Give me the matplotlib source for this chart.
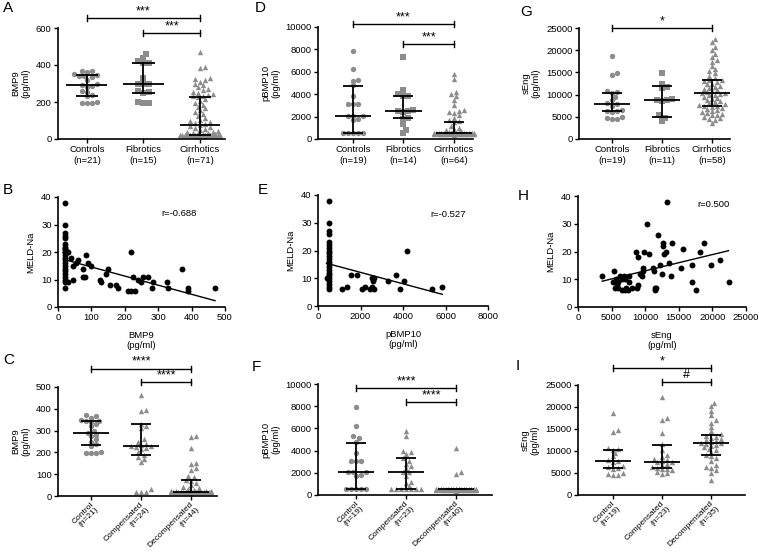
import numpy as np
import matplotlib
matplotlib.use("Agg")
import matplotlib.pyplot as plt
from matplotlib.transforms import ScaledTranslation

plt.rcParams['font.family'] = ['Liberation Sans', 'DejaVu Sans']
plt.rcParams['font.size'] = 6.8

W, H = 759, 556
GREY = '#8c8c8c'
FS = 6.8

# ---------------- data ----------------
# top row: controls / fibrotics / cirrhotics
cat_top = ['Controls', 'Fibrotics', 'Cirrhotics']
n_A = [21, 15, 71]
bmp9_ctrl = [370, 365, 360, 350, 345, 340, 340, 335, 320, 300, 290, 285, 280, 260, 255, 240, 230, 200, 195, 195, 195]
bmp9_fib = [460, 440, 420, 410, 410, 330, 300, 300, 295, 260, 255, 250, 200, 195, 195]
bmp9_cir = [470, 390, 385, 330, 325, 320, 310, 300, 290, 280, 270, 265, 255, 250, 245, 240, 235, 230,
            225, 215, 205, 195, 185, 175, 165, 155, 145, 135, 125, 115, 105, 95, 90, 85, 80, 75,
            70, 65, 60, 55, 50, 45, 40, 38, 35, 32, 30, 28, 25, 22, 22, 21, 21, 21, 20, 20, 20,
            20, 20, 20, 20, 20, 20, 20, 20, 19, 19, 19, 18, 18, 18]
med_A = [290, 297, 75]
q1_A = [232, 250, 20]
q3_A = [345, 410, 225]

n_D = [19, 14, 64]
pb10_ctrl = [7900, 6250, 5300, 5150, 4800, 3800, 3100, 3100, 3100, 2050, 2050, 2050, 1800, 1700, 500, 500, 500, 500, 500]
pb10_fib = [7350, 4350, 4050, 3850, 3850, 2600, 2500, 2500, 2450, 1900, 1800, 1300, 800, 500]
pb10_cir = [5800, 5400, 4200, 4000, 3800, 3500, 3000, 2600, 2500, 2400, 2300, 2100, 1900, 1700, 1600, 1500,
            1200, 1000, 900, 800, 700, 600, 520, 520, 510, 510, 500, 500, 500, 500, 500, 500, 500, 500,
            500, 500, 500, 500, 500, 500, 500, 500, 500, 500, 500, 500, 500, 500, 490, 490, 480, 480,
            470, 470, 460, 460, 450, 450, 450, 440, 440, 430, 420, 400]
med_D = [2050, 2500, 500]
q1_D = [500, 1850, 500]
q3_D = [4700, 3850, 1500]

n_G = [19, 11, 58]
seng_ctrl = [18600, 14800, 14400, 10700, 10500, 10300, 9500, 8800, 8000, 7800, 7500, 6500, 6300, 6200, 6000, 5000, 4800, 4600, 4500]
seng_fib = [14800, 12500, 11800, 11500, 9000, 8800, 8800, 8500, 5300, 4800, 4100]
seng_cir = [22500, 21800, 20800, 20000, 19200, 18500, 17800, 17400, 16500, 15800, 15300, 14800, 14200, 13800, 13400,
            13200, 13000, 12800, 12500, 12300, 12000, 11800, 11500, 11300, 11000, 10800, 10600, 10400, 10300,
            10200, 10000, 9800, 9500, 9300, 9000, 8800, 8500, 8300, 8000, 7800, 7600, 7500, 7400,
            7200, 7000, 6800, 6500, 6300, 6000, 5800, 5600, 5500, 5300, 5000, 4800, 4500, 4200, 3500]
med_G = [7800, 8800, 10300]
q1_G = [6200, 4900, 7500]
q3_G = [10300, 11900, 13200]

# middle row: correlations with MELD-Na
bmp9_x = [20, 20, 20, 20, 20, 20, 20, 20, 20, 20, 20, 20, 20, 20, 20, 20, 20, 20, 20, 20, 20, 20, 20,
          25, 30, 30, 40, 45, 45, 55, 60, 75, 75, 80, 85, 90, 100, 125, 130, 145, 150, 155, 175, 180,
          210, 220, 220, 225, 230, 240, 250, 255, 270, 280, 285, 325, 330, 370, 390, 390, 470]
meld_b = [38, 30, 27, 26, 25, 23, 22, 21, 21, 20, 20, 19, 18, 17, 16, 15, 14, 13, 12, 11, 10, 9, 7,
          20, 20, 9, 18, 15, 10, 16, 17, 14, 11, 11, 19, 16, 15, 10, 9, 12, 14, 8, 8, 7,
          6, 20, 6, 11, 6, 10, 9, 11, 11, 7, 9, 9, 7, 14, 7, 6, 7]
fit_B = (-0.0331, 17.86)
r_B = 'r=-0.688'

pb10_x = [500, 500, 500, 500, 500, 500, 500, 500, 500, 500, 500, 500, 500, 500, 500, 500, 500, 500, 500, 500, 500, 500,
          400, 1150, 1350, 1550, 1850, 2050, 2200, 2450, 2550, 2550, 2600, 2650, 2650, 3300, 3650, 3850, 4050,
          4200, 5350, 5850]
meld_e = [38, 30, 27, 26, 23, 22, 21, 20, 19, 18, 17, 16, 15, 14, 13, 12, 11, 10, 9, 8, 7, 6,
          10, 6, 7, 11, 11, 6, 7, 6, 10, 7, 9, 6, 10, 9, 11, 6, 9, 20, 6, 7]
fit_E = (-0.002056, 16.23)
r_E = 'r=-0.527'

seng_x = [3600, 5200, 5400, 5500, 5600, 5800, 6000, 6000, 6200, 6500, 6600, 6800, 7000, 7000, 7200, 7500, 7600, 7600,
          8000, 8600, 8800, 8900, 9000, 9200, 9500, 9600, 9700, 9800, 10200, 10600, 11100, 11300, 11400, 11500,
          11600, 11900, 12200, 12500, 12600, 12600, 12800, 13100, 13300, 13600, 13900, 14000, 15400, 15600,
          17000, 17000, 17600, 18100, 18800, 19800, 21100, 22400]
meld_h = [11, 9, 13, 7, 10, 8, 7, 9, 11, 10, 6, 11, 6, 10, 7, 6, 11, 9,
          7, 20, 7, 18, 8, 12, 11, 13, 14, 20, 30, 19, 14, 13, 6, 7,
          7, 26, 15, 12, 22, 23, 19, 20, 38, 16, 11, 23, 14, 21,
          15, 9, 6, 20, 23, 15, 17, 9]
fit_H = (0.000585, 7.19)
r_H = 'r=0.500'

# bottom row: control / compensated / decompensated
cat_bot = ['Control', 'Compensated', 'Decompensated']
n_C = [21, 24, 44]
bmp9_c_ctrl = [370, 365, 360, 350, 345, 345, 340, 330, 320, 300, 290, 280, 275, 260, 250, 240, 230, 200, 195, 195, 195]
bmp9_comp = [465, 395, 390, 330, 320, 310, 260, 250, 240, 235, 230, 230, 225, 220, 215, 200, 190, 180, 170, 155, 30, 20, 20, 20]
bmp9_decomp = [275, 270, 220, 150, 145, 130, 120, 90, 85, 75, 70, 60, 50, 40, 35, 30, 28, 25, 22,
               21, 21, 21, 20, 20, 20, 20, 20, 20, 20, 20, 20, 20, 20, 20, 20, 19, 19, 19, 18, 18, 18, 17, 17, 16]
med_C = [290, 230, 20]
q1_C = [232, 188, 18]
q3_C = [343, 328, 72]

n_F = [19, 23, 40]
pb10_c_ctrl = [7900, 6250, 5300, 5150, 4800, 3800, 3100, 3100, 3100, 2050, 2050, 2050, 1800, 1700, 500, 500, 500, 500, 500]
pb10_comp = [5800, 5300, 4000, 3900, 3700, 3300, 3100, 2800, 2600, 2400, 2100, 2050, 1700, 1200, 1100, 800,
             500, 500, 500, 500, 500, 500, 500]
pb10_decomp = [4200, 2100, 1900, 520, 510, 500, 500, 500, 500, 500, 500, 500, 500, 500, 500, 500, 500, 500, 500, 500,
               500, 500, 500, 500, 490, 490, 480, 480, 470, 470, 460, 460, 450, 450, 440, 440, 430, 420, 410, 400]
med_F = [2050, 2050, 500]
q1_F = [500, 500, 500]
q3_F = [4700, 3300, 500]

n_I = [19, 23, 35]
seng_c_ctrl = [18600, 14800, 14400, 10700, 10500, 10300, 9500, 8800, 8000, 7800, 7500, 6500, 6300, 6200, 6000, 5000, 4800, 4600, 4500]
seng_comp = [22300, 17600, 17000, 14000, 11500, 10200, 9200, 8700, 8200, 7900, 7700, 7600, 7400, 7000, 6800, 6400,
             6200, 6000, 5800, 5600, 5300, 5000, 4800]
seng_decomp = [21000, 20200, 19100, 18200, 17000, 16400, 15500, 14500, 13800, 13500, 13200, 13000, 12800, 12500,
               12300, 12100, 11900, 11800, 11600, 11400, 11200, 10800, 10500, 10200, 9800, 9200, 8800, 8400,
               7800, 6800, 6400, 6200, 5600, 5000, 3500]
med_I = [7800, 7600, 11800]
q1_I = [6100, 6100, 9000]
q3_I = [10300, 11300, 13600]

# ---------------- helpers ----------------
fig = plt.figure(figsize=(W / 100, H / 100), dpi=100)


def add_ax(left, top, right, bottom):
    ax = fig.add_axes([left / W, 1 - bottom / H, (right - left) / W, (bottom - top) / H])
    for s in ['top', 'right']:
        ax.spines[s].set_visible(False)
    for s in ['left', 'bottom']:
        ax.spines[s].set_linewidth(1.2)
    ax.tick_params(direction='out', length=3, width=1, pad=1.5, labelsize=FS)
    return ax


def swarm(vals, px_per_y, px_per_cat, d=4.6, max_px=22):
    # simple beeswarm: place each point as close to the centre as possible
    vals = np.asarray(vals, float)
    order = np.argsort(vals)
    ys = vals * px_per_y
    placed = []
    xs = np.zeros(len(vals))
    step = d * 0.55
    cands = [0.0]
    k = 1
    while k * step <= max_px:
        cands += [k * step, -k * step]
        k += 1
    for idx in order:
        best, best_dist, best_c = None, -1, 0.0
        for c in cands:
            md = min([np.hypot(c - px, ys[idx] - py) for px, py in placed] or [99])
            if md >= d * 0.85:
                best = c
                break
            if md > best_dist:
                best_dist, best_c = md, c
        if best is None:
            best = best_c
        xs[idx] = best
        placed.append((best, ys[idx]))
    return xs / px_per_cat


def group_panel(ax, groups, markers, labels, ns, ylim, yticks, med, q1, q3, ylabel, xlim, rotate=False):
    pos = ax.get_position()
    px_y = pos.height * H / (ylim[1] - ylim[0])
    px_c = pos.width * W / (xlim[1] - xlim[0])
    for i, vals in enumerate(groups):
        offs = swarm(vals, px_y, px_c)
        ax.scatter(i + offs, vals, marker=markers[i], s=15, c=GREY, linewidths=0, zorder=2, clip_on=False)
        ax.plot([i - 0.36, i + 0.36], [med[i], med[i]], color='k', lw=1.3, zorder=3, solid_capstyle='butt')
        ax.plot([i, i], [q1[i], q3[i]], color='k', lw=1.3, zorder=3)
        for q in (q1[i], q3[i]):
            ax.plot([i - 0.2, i + 0.2], [q, q], color='k', lw=1.3, zorder=3, solid_capstyle='butt')
    ax.set_xlim(*xlim)
    ax.set_ylim(*ylim)
    ax.set_yticks(yticks)
    ax.set_xticks(range(len(groups)))
    ticklabels = ['%s\n(n=%d)' % (l, n) for l, n in zip(labels, ns)]
    if rotate:
        ax.set_xticklabels(ticklabels, rotation=45, ha='right', va='center', rotation_mode='anchor',
                           multialignment='right', fontsize=6.0, linespacing=1.1)
        ax.tick_params(axis='x', pad=4)
        shift = ScaledTranslation(3 / 72, 0, fig.dpi_scale_trans)
        for lbl in ax.get_xticklabels():
            lbl.set_transform(lbl.get_transform() + shift)
    else:
        ax.set_xticklabels(ticklabels, fontsize=FS)
    ax.set_ylabel(ylabel, fontsize=FS, linespacing=1.1)
    return px_y


def bracket(ax, x0, x1, y, text, px_y):
    t = 3 / px_y
    kw = dict(color='k', lw=1.0, clip_on=False)
    ax.plot([x0, x1], [y, y], **kw)
    ax.plot([x0, x0], [y - t, y + t], **kw)
    ax.plot([x1, x1], [y - t, y + t], **kw)
    ax.text((x0 + x1) / 2, y + 1 / px_y, text, ha='center', va='bottom', fontsize=9, clip_on=False)


def scatter_panel(ax, x, y, fit, rtxt, rpos, xlim, xticks, xlabel):
    ax.scatter(x, y, s=18, c='k', linewidths=0, zorder=3, clip_on=False)
    xs = np.array([min(x), max(x)])
    ax.plot(xs, fit[0] * xs + fit[1], color='k', lw=1.0)
    ax.set_xlim(*xlim)
    ax.set_xticks(xticks)
    ax.set_ylim(0, 40)
    ax.set_yticks([0, 10, 20, 30, 40])
    ax.set_ylabel('MELD-Na', fontsize=FS)
    ax.set_xlabel(xlabel, fontsize=FS, linespacing=1.2, labelpad=6)
    ax.text(rpos[0], rpos[1], rtxt, fontsize=FS, ha='left', va='center')


# ---------------- panels ----------------
# A
axA = add_ax(58, 28, 225, 139)
pA = group_panel(axA, [bmp9_ctrl, bmp9_fib, bmp9_cir], ['o', 's', '^'], cat_top, n_A,
                 (0, 600), [0, 200, 400, 600], med_A, q1_A, q3_A, 'BMP9\n(pg/ml)', (-0.51, 2.44))
bracket(axA, 0, 2, 654, '***', pA)
bracket(axA, 1, 2, 573, '***', pA)

# D
axD = add_ax(318, 27, 473, 139)
pD = group_panel(axD, [pb10_ctrl, pb10_fib, pb10_cir], ['o', 's', '^'], cat_top, n_D,
                 (0, 10000), range(0, 10001, 2000), med_D, q1_D, q3_D, 'pBMP10\n(pg/ml)', (-0.69, 2.38))
bracket(axD, 0, 2, 10270, '***', pD)
bracket(axD, 1, 2, 8480, '***', pD)

# G
axG = add_ax(579, 28, 730, 139)
pG = group_panel(axG, [seng_ctrl, seng_fib, seng_cir], ['o', 's', '^'], cat_top, n_G,
                 (0, 25000), range(0, 25001, 5000), med_G, q1_G, q3_G, 'sEng\n(pg/ml)', (-0.66, 2.36))
bracket(axG, 0, 2, 25000, '*', pG)

# B
axB = add_ax(58, 197, 225, 307)
scatter_panel(axB, bmp9_x, meld_b, fit_B, r_B, (311, 34), (0, 500), range(0, 501, 100), 'BMP9\n(pg/ml)')

# E
axE = add_ax(318, 195, 488, 306)
scatter_panel(axE, pb10_x, meld_e, fit_E, r_E, (5270, 33), (0, 8000), range(0, 8001, 2000), 'pBMP10\n(pg/ml)')

# H
axH = add_ax(578, 196, 746, 307)
scatter_panel(axH, seng_x, meld_h, fit_H, r_H, (17700, 37), (0, 25000), range(0, 25001, 5000), 'sEng\n(pg/ml)')

# C
axC = add_ax(58, 387, 217, 496)
pC = group_panel(axC, [bmp9_c_ctrl, bmp9_comp, bmp9_decomp], ['o', '^', '^'], cat_bot, n_C,
                 (0, 500), range(0, 501, 100), med_C, q1_C, q3_C, 'BMP9\n(pg/ml)', (-0.66, 2.52), rotate=True)
bracket(axC, 0, 2, 583, '****', pC)
bracket(axC, 1, 2, 523, '****', pC)

# F
axF = add_ax(318, 384, 492, 495)
pF = group_panel(axF, [pb10_c_ctrl, pb10_comp, pb10_decomp], ['o', '^', '^'], cat_bot, n_F,
                 (0, 10000), range(0, 10001, 2000), med_F, q1_F, q3_F, 'pBMP10\n(pg/ml)', (-0.76, 2.72), rotate=True)
bracket(axF, 0, 2, 9640, '****', pF)
bracket(axF, 1, 2, 8380, '****', pF)

# I
axI = add_ax(578, 385, 745, 495)
pI = group_panel(axI, [seng_c_ctrl, seng_comp, seng_decomp], ['^', '^', '^'], cat_bot, n_I,
                 (0, 25000), range(0, 25001, 5000), med_I, q1_I, q3_I, 'sEng\n(pg/ml)', (-0.71, 2.69), rotate=True)
bracket(axI, 0, 2, 28860, '*', pI)
bracket(axI, 1, 2, 25680, '#', pI)

# panel letters
for letter, (px, py) in {'A': (3, 8), 'D': (255, 8), 'G': (520, 12), 'B': (3, 190), 'E': (258, 190),
                         'H': (518, 196), 'C': (3, 360), 'F': (252, 367), 'I': (516, 366)}.items():
    fig.text(px / W, 1 - py / H, letter, fontsize=11, ha='left', va='center')

fig.savefig('out.png', dpi=100)
